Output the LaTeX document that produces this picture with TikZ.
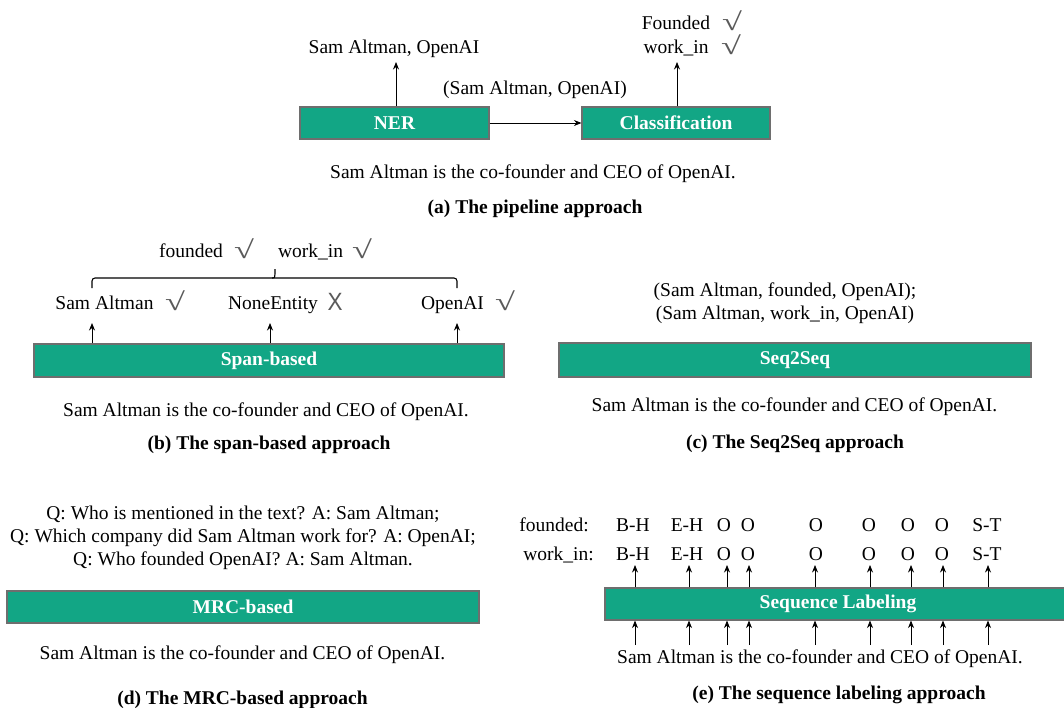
\documentclass[tikz,border=0pt]{standalone}
\usepackage{graphicx}
\usepackage{fontspec}
\setmainfont{Liberation Serif}
\newfontfamily\xfont{Liberation Sans}
\usetikzlibrary{arrows.meta}
\definecolor{boxgreen}{HTML}{12A685}
\definecolor{boxline}{HTML}{6E6E6E}
\definecolor{markgray}{HTML}{5A5A5A}
\newcommand{\fs}{\fontsize{19.5}{23.5}\selectfont}
\newcommand{\chk}{{\fontsize{25}{25}\selectfont\color{markgray}\scalebox{1.45}[1]{√}}}
\newcommand{\xmk}{{\xfont\fontsize{25}{25}\selectfont\color{markgray}\scalebox{0.9}[1]{X}}}
\tikzset{
  gbox/.style={draw=boxline, line width=1.1pt, fill=boxgreen, text=white, font=\fs\bfseries, inner sep=0pt, minimum height=32pt},
  txt/.style={font=\fs, inner sep=0pt, text height=0.68em, text depth=0.2em, yshift=-4pt},
  captxt/.style={font=\fs\bfseries, inner sep=0pt, text height=0.68em, text depth=0.2em, yshift=-4pt},
  mk/.style={inner sep=0pt},
  arr/.style={-{Stealth[length=7.5pt,width=6pt]}, line width=0.8pt}
}
\begin{document}
\begin{tikzpicture}[x=1pt,y=-1pt]
\useasboundingbox (0,0) rectangle (1064,707);
\clip (0,0) rectangle (1064,707);

% ---------- (a) pipeline ----------
\node[gbox, minimum width=189pt] (ner) at (394.5,123) {NER};
\node[gbox, minimum width=188pt] (cls) at (676,123) {Classification};
\node[txt] (nerout) at (394,47) {Sam Altman, OpenAI};
\node[txt] (pair) at (535,88) {(Sam Altman, OpenAI)};
\node[txt] (fnd) at (676,23) {Founded};
\node[mk] (fndc) at (732,21) {\chk};
\node[txt] (wki) at (676,47) {work\_in};
\node[mk] (wkic) at (731,45) {\chk};
\node[txt] (senta) at (533,172) {Sam Altman is the co-founder and CEO of OpenAI.};
\node[captxt] (capa) at (535,207) {(a) The pipeline approach};
\coordinate (nertip) at (396,62);
\coordinate (clstip) at (677,62);
\draw[arr] (ner.north -| nertip) -- (nertip);
\draw[arr] (cls.north -| clstip) -- (clstip);
\draw[arr] (ner.east) -- (cls.west);

% ---------- (b) span-based ----------
\node[gbox, minimum width=470pt, minimum height=33pt] (span) at (269,360.5) {Span-based};
\node[txt] (sa) at (104.5,303) {Sam Altman};
\node[mk] (sac) at (175,301) {\chk};
\node[txt] (ne) at (273,303) {NoneEntity};
\node[mk] (nex) at (335,302) {\xmk};
\node[txt] (oa) at (452.5,303) {OpenAI};
\node[mk] (oac) at (505,301) {\chk};
\node[txt] (bf) at (191,251) {founded};
\node[mk] (bfc) at (244,249) {\chk};
\node[txt] (bw) at (310.5,251) {work\_in};
\node[mk] (bwc) at (362,249) {\chk};
\node[txt] (sentb) at (266,410) {Sam Altman is the co-founder and CEO of OpenAI.};
\node[captxt] (capb) at (269,443) {(b) The span-based approach};
\coordinate (t1) at (92,323);
\coordinate (t2) at (270,323);
\coordinate (t3) at (457,323);
\draw[arr] (span.north -| t1) -- (t1);
\draw[arr] (span.north -| t2) -- (t2);
\draw[arr] (span.north -| t3) -- (t3);
\draw[line width=1.1pt, rounded corners=3pt] (92,288) -- (92,278) -- (457,278) -- (457,288);
\draw[line width=1.1pt] (272,278) .. controls (275,278) .. (275,269);

% ---------- (c) Seq2Seq ----------
\node[gbox, minimum width=472pt, minimum height=34pt] (s2s) at (795,360) {Seq2Seq};
\node[txt] (tr1) at (785,290) {(Sam Altman, founded, OpenAI);};
\node[txt] (tr2) at (785,313) {(Sam Altman, work\_in, OpenAI)};
\node[txt] (sentc) at (794.5,405) {Sam Altman is the co-founder and CEO of OpenAI.};
\node[captxt] (capc) at (795,442) {(c) The Seq2Seq approach};

% ---------- (d) MRC ----------
\node[gbox, minimum width=472pt] (mrc) at (243,607) {MRC-based};
\node[txt] (q1) at (243,513) {Q: Who is mentioned in the text? A: Sam Altman;};
\node[txt] (q2) at (243,536) {Q: Which company did Sam Altman work for? A: OpenAI;};
\node[txt] (q3) at (243,559) {Q: Who founded OpenAI? A: Sam Altman.};
\node[txt] (sentd) at (242.5,653) {Sam Altman is the co-founder and CEO of OpenAI.};
\node[captxt] (capd) at (242.5,698) {(d) The MRC-based approach};

% ---------- (e) sequence labeling ----------
\node[gbox, minimum width=466pt] (seq) at (838,604) {Sequence Labeling};
\node[txt] (rf) at (554,525) {founded:};
\node[txt] (rw) at (558.5,554) {work\_in:};
\foreach \lx/\ax/\tg [count=\i] in {633/635/B-H, 687/689/E-H, 724/727/O, 748/749/O, 816/815/O, 869/870/O, 908/911/O, 942/943/O, 987/988/S-T}{
  \node[txt] (fo\i) at (\lx,525) {\tg};
  \node[txt] (wo\i) at (\lx,554) {\tg};
  \coordinate (up\i) at (\ax,565);
  \coordinate (dn\i) at (\ax,645);
  \draw[arr] (seq.north -| up\i) -- (up\i);
  \draw[arr] (dn\i) -- (seq.south -| dn\i);
}
\node[txt] (sente) at (820,657) {Sam Altman is the co-founder and CEO of OpenAI.};
\node[captxt] (cape) at (839,693) {(e) The sequence labeling approach};
\end{tikzpicture}
\end{document}
